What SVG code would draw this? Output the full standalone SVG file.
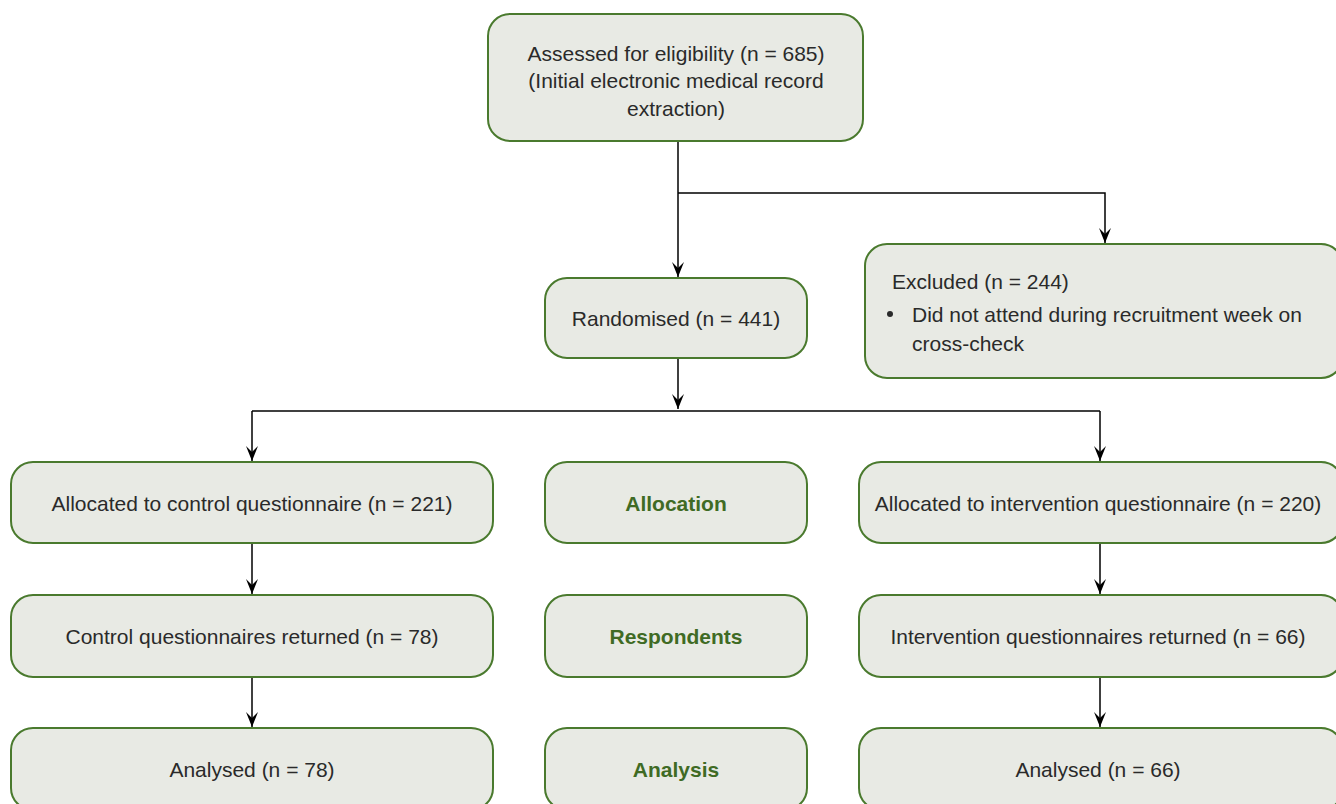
<svg xmlns="http://www.w3.org/2000/svg" width="1336" height="804" viewBox="0 0 1336 804">
<defs>
<style>
.box{fill:#e8eae4;stroke:#4a7a2e;stroke-width:2}
.t{font-family:"Liberation Sans",Arial,sans-serif;font-size:21px;fill:#2a2a2a;text-anchor:middle;dominant-baseline:central}
.tl{text-anchor:start}
.b{font-weight:bold;fill:#3f6b24;font-size:21px}
.c{fill:none;stroke:#000;stroke-width:1.5}
</style>
<marker id="ah" markerUnits="userSpaceOnUse" markerWidth="16" markerHeight="14" viewBox="-15 -7 16 14" refX="0" refY="0" orient="auto">
<path d="M0,0 L-15,-6 L-9,0 L-15,6 Z" fill="#000"/>
</marker>
</defs>
<g id="connectors">
<path class="c" d="M678,141 V277" marker-end="url(#ah)"/>
<path class="c" d="M678,193 H1105 V243" marker-end="url(#ah)"/>
<path class="c" d="M678,358 V409" marker-end="url(#ah)"/>
<path class="c" d="M252,411 H1100"/>
<path class="c" d="M252,411 V461" marker-end="url(#ah)"/>
<path class="c" d="M1100,411 V461" marker-end="url(#ah)"/>
<path class="c" d="M252,543 V594" marker-end="url(#ah)"/>
<path class="c" d="M1100,543 V594" marker-end="url(#ah)"/>
<path class="c" d="M252,677 V727" marker-end="url(#ah)"/>
<path class="c" d="M1100,677 V727" marker-end="url(#ah)"/>
</g>
<g id="assessed">
<rect class="box" x="488" y="14" width="375" height="127" rx="22"/>
<text class="t" x="676" y="53">Assessed for eligibility (n = 685)</text>
<text class="t" x="676" y="80">(Initial electronic medical record</text>
<text class="t" x="676" y="108">extraction)</text>
</g>
<g id="randomised">
<rect class="box" x="545" y="278" width="262" height="80" rx="22"/>
<text class="t" x="676" y="318">Randomised (n = 441)</text>
</g>
<g id="excluded">
<rect class="box" x="865" y="244" width="478" height="134" rx="22"/>
<text class="t tl" x="892" y="281">Excluded (n = 244)</text>
<circle cx="890" cy="314" r="3" fill="#2a2a2a"/>
<text class="t tl" x="912" y="314">Did not attend during recruitment week on</text>
<text class="t tl" x="912" y="343">cross-check</text>
</g>
<g id="alloc-control">
<rect class="box" x="11" y="462" width="482" height="81" rx="22"/>
<text class="t" x="252" y="503">Allocated to control questionnaire (n = 221)</text>
</g>
<g id="allocation">
<rect class="box" x="545" y="462" width="262" height="81" rx="22"/>
<text class="t b" x="676" y="503">Allocation</text>
</g>
<g id="alloc-intervention">
<rect class="box" x="859" y="462" width="484" height="81" rx="22"/>
<text class="t" x="1098" y="503">Allocated to intervention questionnaire (n = 220)</text>
</g>
<g id="returned-control">
<rect class="box" x="11" y="595" width="482" height="82" rx="22"/>
<text class="t" x="252" y="636">Control questionnaires returned (n = 78)</text>
</g>
<g id="respondents">
<rect class="box" x="545" y="595" width="262" height="82" rx="22"/>
<text class="t b" x="676" y="636">Respondents</text>
</g>
<g id="returned-intervention">
<rect class="box" x="859" y="595" width="484" height="82" rx="22"/>
<text class="t" x="1098" y="636">Intervention questionnaires returned (n = 66)</text>
</g>
<g id="analysed-control">
<rect class="box" x="11" y="728" width="482" height="82" rx="22"/>
<text class="t" x="252" y="769">Analysed (n = 78)</text>
</g>
<g id="analysis">
<rect class="box" x="545" y="728" width="262" height="82" rx="22"/>
<text class="t b" x="676" y="769">Analysis</text>
</g>
<g id="analysed-intervention">
<rect class="box" x="859" y="728" width="484" height="82" rx="22"/>
<text class="t" x="1098" y="769">Analysed (n = 66)</text>
</g>
</svg>
